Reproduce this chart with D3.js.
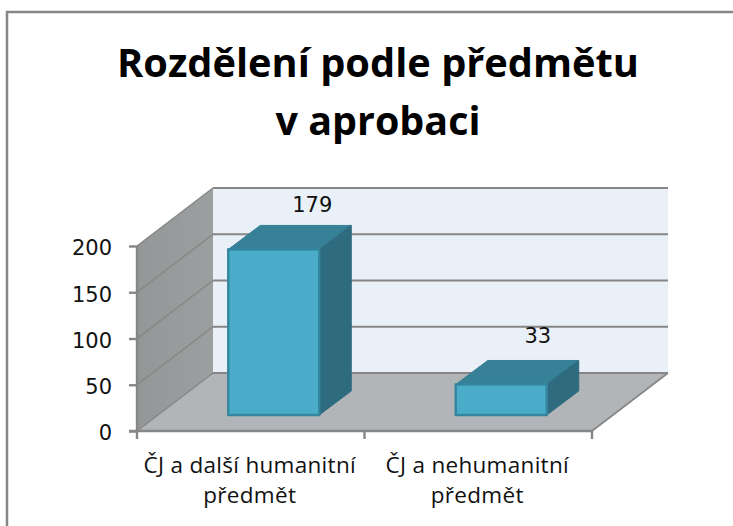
<!DOCTYPE html>
<html><head><meta charset="utf-8">
<script src="https://cdn.jsdelivr.net/npm/d3@7"></script>
<style>html,body{margin:0;padding:0;background:#fff}svg{display:block}text{font-family:"Open Sans",sans-serif;fill:#111}</style>
</head><body><svg id="c" width="733" height="526"></svg>
<script>
const titleLines = ["Rozdělení podle předmětu", "v aprobaci"];
const categories = ["ČJ a další humanitní předmět", "ČJ a nehumanitní předmět"];
const categoryLines = [["ČJ a další humanitní", "předmět"], ["ČJ a nehumanitní", "předmět"]];
const values = [179, 33];
const yTicks = [0, 50, 100, 150, 200];

const svg = d3.select("#c");
const depth = {x: 76, y: -58};
const barDepth = {x: 32, y: -24};
const barInset = {x: 23, y: -16};
const labelNudge = [{x: 38.5, y: 37}, {x: 36.5, y: 41}];
const y = d3.scaleLinear().domain([0, 200]).range([431, 246]);
const x = d3.scaleBand().domain(categories).range([137, 592]).paddingInner(0.6).paddingOuter(0.3);
const axisCol = "#868686";
const digitFont = '"DejaVu Sans"';
const [x0, x1] = x.range();
const y0 = y(0), yT = y(200);

const grad = svg.append("defs").append("linearGradient").attr("id", "wall").attr("x1", 0).attr("x2", 1).attr("y1", 0).attr("y2", 0);
grad.append("stop").attr("offset", 0).attr("stop-color", "#949797");
grad.append("stop").attr("offset", 1).attr("stop-color", "#9c9f9f");

// frame
svg.append("path").attr("d", `M7,526V12H733`).attr("fill", "none").attr("stroke", axisCol).attr("stroke-width", 2.5);

// walls
const poly = pts => "M" + pts.map(p => p.join(",")).join("L") + "Z";
svg.append("path").attr("d", poly([[x0 + depth.x, yT + depth.y], [x1 + depth.x, yT + depth.y], [x1 + depth.x, y0 + depth.y], [x0 + depth.x, y0 + depth.y]])).attr("fill", "#e9f0f7");
svg.append("path").attr("d", poly([[x0, yT], [x0 + depth.x, yT + depth.y], [x0 + depth.x, y0 + depth.y], [x0, y0]])).attr("fill", "url(#wall)");
svg.append("path").attr("d", poly([[x0, y0], [x0 + depth.x, y0 + depth.y], [x1 + depth.x, y0 + depth.y], [x1, y0]])).attr("fill", "#b1b5b8");

// gridlines
yTicks.forEach(t => {
  svg.append("path").attr("d", `M${x0},${y(t)}L${x0 + depth.x},${y(t) + depth.y}`)
    .attr("fill", "none").attr("stroke", axisCol).attr("stroke-width", 1.4);
  svg.append("path").attr("d", `M${x0 + depth.x},${y(t) + depth.y}H${x1 + depth.x}`)
    .attr("fill", "none").attr("stroke", axisCol).attr("stroke-width", 2);
});
svg.append("path").attr("d", `M${x1},${y0}L${x1 + depth.x},${y0 + depth.y}`).attr("stroke", axisCol).attr("stroke-width", 1.6);

// axes
const yAxis = d3.axisLeft(y).tickValues(yTicks).tickSize(8).tickPadding(17);
const gy = svg.append("g").attr("transform", `translate(${x0},0)`).call(yAxis);
gy.selectAll("path,line").attr("stroke", axisCol).attr("stroke-width", 2.4);
gy.select("path").attr("d", `M0,${yT}V${y0}`);
gy.selectAll("text").attr("font-size", 21).attr("dy", "0.42em").style("font-family", digitFont);

const edges = [x0, (x0 + x1) / 2, x1];
svg.append("g").selectAll("line").data(edges).join("line")
  .attr("x1", d => d).attr("x2", d => d).attr("y1", y0).attr("y2", y0 + 8)
  .attr("stroke", axisCol).attr("stroke-width", 2.4);
svg.append("line").attr("x1", x0 - 8).attr("x2", x1).attr("y1", y0).attr("y2", y0).attr("stroke", axisCol).attr("stroke-width", 2.4);

// bars
const bars = svg.append("g").selectAll("g").data(categories).join("g");
bars.each(function (c, i) {
  const g = d3.select(this);
  const l = x(c) + barInset.x, r = l + x.bandwidth();
  const b = y(0) + barInset.y, t = y(values[i]) + barInset.y;
  const dx = barDepth.x, dy = barDepth.y;
  g.append("path").attr("d", poly([[l, t], [l + dx, t + dy], [r + dx, t + dy], [r, t]])).attr("fill", "#368098").attr("stroke", "#368098");
  g.append("path").attr("d", poly([[r, t], [r + dx, t + dy], [r + dx, b + dy], [r, b]])).attr("fill", "#2f6b7f").attr("stroke", "#2f6b7f");
  g.append("rect").attr("x", l).attr("y", t).attr("width", r - l).attr("height", b - t).attr("fill", "#4aacc8").attr("stroke", "#34869f").attr("stroke-width", 2.4);
  g.append("text").text(values[i]).attr("x", (l + r) / 2 + labelNudge[i].x).attr("y", t - labelNudge[i].y).attr("text-anchor", "middle").attr("font-size", 21).style("font-family", digitFont);
});

// category labels
categoryLines.forEach((lines, i) => {
  const cx = x(categories[i]) + x.bandwidth() / 2 - 1;
  lines.forEach((s, k) => svg.append("text").text(s).attr("x", cx).attr("y", 473 + k * 30).attr("text-anchor", "middle").attr("font-size", 22.5).attr("letter-spacing", 0.3));
});

// title
titleLines.forEach((s, k) => svg.append("text").text(s).attr("x", 378).attr("y", 77 + k * 58)
  .attr("text-anchor", "middle").attr("font-size", 40).attr("font-weight", 700).attr("textLength", k === 0 ? 522 : 205).attr("lengthAdjust", "spacingAndGlyphs").style("fill", "#000"));
</script></body></html>
